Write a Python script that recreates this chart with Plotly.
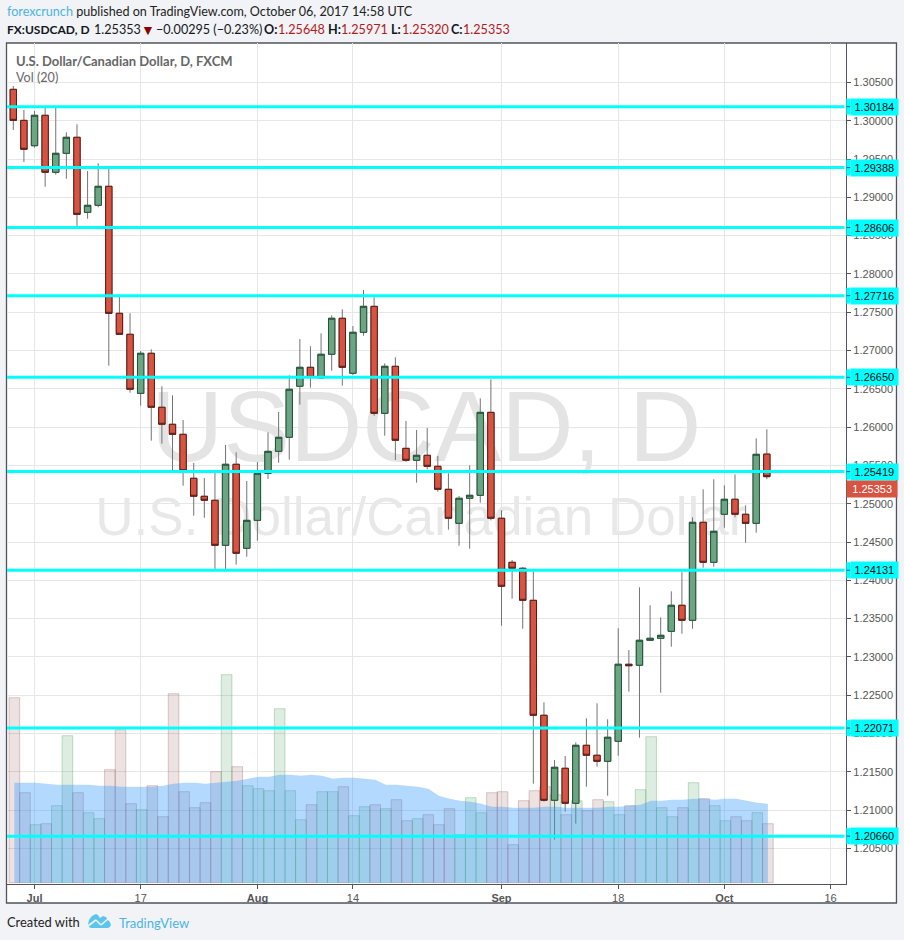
import numpy as np
import pandas as pd
import plotly.graph_objects as go

# ---------- data ----------
first_day = "2017-06-29"
opens = [1.30410,1.30005,1.29674,1.30071,1.29327,1.29575,1.29784,1.28804,1.28896,1.29144,
         1.27486,1.27212,1.26441,1.26964,1.26259,1.26037,1.25906,1.25332,1.25097,1.25045,
         1.24457,1.25515,1.24418,1.24783,1.25397,1.25684,1.25867,1.26533,1.26781,1.26641,
         1.26951,1.27421,1.26703,1.27238,1.27577,1.26180,1.26794,1.25723,1.25567,1.25632,
         1.25488,1.25188,1.24744,1.25071,1.25110,1.26193,1.24810,1.24235,1.24157,1.23739,
         1.22238,1.21128,1.21546,1.21089,1.21846,1.21716,1.21637,1.21898,1.22904,1.22891,
         1.23217,1.23243,1.23334,1.23674,1.23478,1.24757,1.24235,1.24862,1.25058,1.24862,
         1.24744,1.25648]
highs = [1.30453,1.30140,1.30127,1.30192,1.30183,1.29849,1.29953,1.29344,1.29444,1.29370,
         1.27712,1.27486,1.26994,1.27016,1.26533,1.26415,1.26093,1.25532,1.25336,1.25401,
         1.25767,1.25671,1.25297,1.25545,1.25932,1.26197,1.26676,1.27150,1.27055,1.27225,
         1.27460,1.27538,1.27320,1.27790,1.27695,1.26833,1.26911,1.26080,1.25962,1.25988,
         1.25623,1.25397,1.25101,1.25501,1.26376,1.26624,1.24914,1.24265,1.24174,1.24122,
         1.22407,1.21654,1.21706,1.21885,1.22198,1.22394,1.22185,1.23374,1.23090,1.23909,
         1.23674,1.23517,1.23856,1.24105,1.24823,1.25188,1.25319,1.25240,1.25384,1.24979,
         1.25854,1.25971]
lows = [1.29879,1.29461,1.29648,1.29139,1.29295,1.29243,1.28626,1.28721,1.28870,1.26802,
        1.27212,1.26449,1.26280,1.25823,1.25784,1.25440,1.25235,1.24844,1.24817,1.24148,
        1.24148,1.24204,1.24308,1.24517,1.25323,1.25535,1.25575,1.26293,1.26515,1.26628,
        1.26737,1.26541,1.26680,1.27193,1.26149,1.25888,1.25571,1.25548,1.25274,1.25449,
        1.25157,1.24661,1.24452,1.24413,1.25013,1.24783,1.23407,1.23760,1.23368,1.21345,
        1.21110,1.20614,1.20979,1.20823,1.21306,1.21567,1.21188,1.21710,1.22546,1.21945,
        1.23212,1.22533,1.23133,1.23303,1.23368,1.24165,1.24178,1.24687,1.24823,1.24491,
        1.24622,1.25320]
closes = [1.30005,1.29627,1.30071,1.29327,1.29575,1.29784,1.28778,1.28896,1.29144,1.27486,
          1.27212,1.26494,1.26964,1.26259,1.26037,1.25906,1.25431,1.25097,1.25045,1.24457,
          1.25515,1.24353,1.24783,1.25397,1.25684,1.25867,1.26494,1.26781,1.26650,1.26951,
          1.27421,1.26781,1.27238,1.27577,1.26180,1.26794,1.25828,1.25567,1.25632,1.25488,
          1.25188,1.24810,1.25071,1.25110,1.26193,1.24810,1.23922,1.24157,1.23739,1.22238,
          1.21128,1.21559,1.21089,1.21846,1.21716,1.21637,1.21951,1.22904,1.22885,1.23217,
          1.23243,1.23282,1.23674,1.23478,1.24757,1.24235,1.24640,1.25058,1.24862,1.24744,
          1.25645,1.25353]
volumes = [185,90,58,59,77,147,90,70,64,113,153,79,73,97,66,189,91,75,80,111,
           208,116,97,94,92,174,92,63,78,91,91,96,67,76,78,74,83,62,64,68,
           58,74,48,85,70,90,91,38,82,92,96,88,68,82,72,83,81,68,77,93,
           146,75,66,75,100,84,77,62,66,62,70,59]
volume_ma = [100,100,100,99,98,98,98,98,97,97,96,96,96,96,97,99,100,100,99,100,
             101,102,104,106,106,108,108,107,108,107,104,105,105,104,103,98,98,97,96,94,
             87,84,82,81,79,76,76,75,75,75,76,76,75,75,75,75,76,76,77,78,
             82,82,83,83,84,84,83,84,84,82,80,79]
levels = [1.30184,1.29388,1.28606,1.27716,1.26650,1.25419,1.24131,1.22071,1.20660]
last_price = 1.25353
price_ticks = [1.205,1.21,1.215,1.22,1.225,1.23,1.235,1.24,1.245,1.25,1.255,
               1.26,1.265,1.27,1.275,1.28,1.285,1.29,1.295,1.30,1.305]
tick_dates = ["2017-07-03","2017-07-17","2017-08-01","2017-08-14","2017-09-01","2017-09-18","2017-10-02","2017-10-16"]
tick_labels = ["<b>Jul</b>","17","<b>Aug</b>","14","<b>Sep</b>","18","<b>Oct</b>","16"]

# ---------- styles ----------
W, H = 904, 940
L, R, T, B = 7, 846.5, 43, 884
PW, PH = R - L, B - T
BG = "#f1f3f6"
GRID = "#e6e6e6"
FRAME = "#51545e"
UP, DOWN = "#6ba583", "#d75442"
UP_EDGE, DOWN_EDGE = "#225437", "#5b1a13"
WICK = "#737375"
CYAN = "#00ffff"
BLUE = "#4db4e4"
DARKRED = "#b01c1c"
UI_FONT = "Lato"
AXIS_FONT = dict(family="Liberation Sans", size=11, color="#555555")

def fx(px):
    return (px - L) / PW
def fy(py):
    return 1 - (py - T) / PH
def path(points):
    return "M " + " L ".join(f"{fx(a):.5f} {fy(b):.5f}" for a, b in points) + " Z"

idx = np.arange(len(opens))
tick_vals = [int(np.busday_count(first_day, d)) for d in tick_dates]
x_range = [-0.593, 78.46]
price_range = [1.20035, 1.31015]
vol_range = [-1.3, 839.7]
is_up = np.array(closes) >= np.array(opens)

fig = go.Figure()

# volume and watermark, lowest subplot
fig.add_trace(go.Bar(
    x=idx, y=volumes, width=1, offset=-0.4, yaxis="y",
    marker=dict(
        color=["rgba(60,150,80,0.17)" if u else "rgba(131,60,60,0.15)" for u in is_up],
        line=dict(color=["rgba(50,140,70,0.28)" if u else "rgba(130,50,50,0.25)" for u in is_up], width=1)),
    hoverinfo="skip", showlegend=False))
fig.add_trace(go.Scatter(
    x=[38.9], y=[447], mode="text", text=["USDCAD, D"], yaxis="y",
    textfont=dict(family="Liberation Sans", size=100, color="#e4e4e4"),
    textposition="middle center", hoverinfo="skip", showlegend=False, cliponaxis=False))
fig.add_trace(go.Scatter(
    x=[38.4], y=[361], mode="text", text=["U.S. Dollar/Canadian Dollar"], yaxis="y",
    textfont=dict(family="Liberation Sans", size=53, color="#e8e8e8"),
    textposition="middle center", hoverinfo="skip", showlegend=False, cliponaxis=False))

# candles: wicks then bodies with their own outline
fig.add_trace(go.Candlestick(
    x=idx, open=opens, high=highs, low=lows, close=closes, yaxis="y2",
    increasing=dict(line=dict(color=WICK, width=1), fillcolor=UP),
    decreasing=dict(line=dict(color=WICK, width=1), fillcolor=DOWN),
    hoverinfo="skip", showlegend=False))
fig.add_trace(go.Candlestick(
    x=idx, open=opens, close=closes, yaxis="y2",
    high=np.maximum(opens, closes), low=np.minimum(opens, closes),
    increasing=dict(line=dict(color=UP_EDGE, width=1), fillcolor=UP),
    decreasing=dict(line=dict(color=DOWN_EDGE, width=1), fillcolor=DOWN),
    hoverinfo="skip", showlegend=False))

# volume moving average
fig.add_trace(go.Scatter(
    x=idx + 0.1, y=volume_ma, yaxis="y3", mode="lines", line=dict(width=0),
    fill="tozeroy", fillcolor="rgba(51,153,255,0.37)", hoverinfo="skip", showlegend=False))

shapes = [
    dict(type="rect", xref="paper", yref="paper", layer="below",
         x0=fx(6.5), x1=fx(897), y0=fy(903), y1=fy(43),
         fillcolor="white", line=dict(color=FRAME, width=1.3)),
]
for lv in levels:
    shapes.append(dict(type="line", xref="paper", yref="y2", x0=0, x1=fx(845), y0=lv, y1=lv,
                       layer="above", line=dict(color=CYAN, width=3)))
    # the part of the price tag that carries the axis tick
    shapes.append(dict(type="rect", xref="paper", yref="y2", ysizemode="pixel", yanchor=lv,
                       x0=fx(846.8), x1=fx(851), y0=-8, y1=8, layer="above",
                       fillcolor=CYAN, line=dict(width=0)))
    shapes.append(dict(type="line", xref="paper", yref="y2", x0=fx(847), x1=fx(851), y0=lv, y1=lv,
                       layer="above", line=dict(color=FRAME, width=1)))

# logo
shapes.append(dict(type="path", xref="paper", yref="paper", layer="above", line=dict(width=0),
                   fillcolor="#5cc6ea",
                   path=path([(88, 925), (89, 920), (92, 916), (96, 914), (98, 915), (100, 918),
                              (103, 916), (106, 917), (108, 920), (110, 922), (111, 925),
                              (110, 927), (108, 928), (91, 928), (89, 927)])))
shapes.append(dict(type="line", xref="paper", yref="paper", layer="above",
                   x0=fx(88), x1=fx(96), y0=fy(926), y1=fy(920), line=dict(color=BG, width=1.6)))
shapes.append(dict(type="line", xref="paper", yref="paper", layer="above",
                   x0=fx(96), x1=fx(101), y0=fy(920), y1=fy(925), line=dict(color=BG, width=1.6)))
shapes.append(dict(type="line", xref="paper", yref="paper", layer="above",
                   x0=fx(101), x1=fx(108), y0=fy(925), y1=fy(919), line=dict(color=BG, width=1.6)))

def label(px, py, text, color="#131722", size=12.6, family=UI_FONT):
    return dict(xref="paper", yref="paper", x=fx(px), y=fy(py), text=text, showarrow=False,
                xanchor="left", yanchor="middle", align="left",
                font=dict(family=family, size=size, color=color), borderpad=0)

annotations = [
    label(6, 11.5, f"<span style='color:{BLUE}'>forexcrunch</span> published on TradingView.com, October 06, 2017 14:58 UTC", color="#222222"),
    label(6, 29.5, "<b>FX:USDCAD, D</b>", size=12),
    label(93, 29.5, "1.25353"),
    label(140.5, 29.5, "▼", color="#8b0000", size=14),
    label(155, 29.5, "−0.00295 (−0.23%)"),
    label(263, 29.5, "<b>O:</b>"),
    label(277, 29.5, "1.25648", color=DARKRED),
    label(327, 29.5, "<b>H:</b>"),
    label(340, 29.5, "1.25971", color=DARKRED),
    label(390, 29.5, "<b>L:</b>"),
    label(401, 29.5, "1.25320", color=DARKRED),
    label(450, 29.5, "<b>C:</b>"),
    label(462, 29.5, "1.25353", color=DARKRED),
    label(15, 60.5, "<b>U.S. Dollar/Canadian Dollar, D, FXCM</b>", color="#666666", size=13),
    label(15, 78, "Vol (20)", color="#666666"),
    label(6, 922, "Created with", color="#222222", size=12.9),
    label(118, 923, "TradingView", color=BLUE, size=13),
]
for lv in levels:
    annotations.append(dict(
        xref="paper", yref="y2", x=fx(850.5), y=lv, xanchor="left", yanchor="middle",
        text=f"{lv:.5f}", showarrow=False, width=46.7, height=16, align="center",
        bgcolor=CYAN, borderpad=0,
        font=dict(family="Liberation Sans", size=11, color="#111111")))
annotations.append(dict(
    xref="paper", yref="y2", x=fx(846.8), y=last_price, yshift=-12, xanchor="left", yanchor="middle",
    text=f"{last_price:.5f}", showarrow=False, width=50.4, height=16, align="center",
    bgcolor=DOWN, borderpad=0,
    font=dict(family="Liberation Sans", size=11, color="white")))

fig.update_layout(
    width=W, height=H, margin=dict(l=L, r=W - R, t=T, b=H - B, autoexpand=False),
    paper_bgcolor=BG, plot_bgcolor="rgba(0,0,0,0)",
    boxmode="overlay", boxgap=0.4, boxgroupgap=0, barmode="overlay", showlegend=False,
    dragmode=False, shapes=shapes, annotations=annotations,
    xaxis=dict(range=x_range, tickmode="array", tickvals=tick_vals, ticktext=tick_labels,
               showgrid=True, gridcolor=GRID, gridwidth=1, zeroline=False,
               showline=True, linecolor=FRAME, linewidth=1.3,
               ticks="outside", ticklen=4, tickcolor=FRAME, tickwidth=1, tickfont=AXIS_FONT,
               rangeslider=dict(visible=False), fixedrange=True),
    yaxis=dict(range=vol_range, visible=False, fixedrange=True),
    yaxis2=dict(range=price_range, overlaying="y", side="right", anchor="x",
                tickmode="array", tickvals=price_ticks, tickformat=".5f",
                showgrid=True, gridcolor=GRID, gridwidth=1, zeroline=False,
                showline=True, linecolor=FRAME, linewidth=1.3,
                ticks="outside", ticklen=4, tickcolor=FRAME, tickwidth=1, tickfont=AXIS_FONT,
                fixedrange=True),
    yaxis3=dict(range=vol_range, overlaying="y", visible=False, fixedrange=True),
)

fig.write_html("out.html", config=dict(displayModeBar=False),
               post_script="document.body.style.margin='0';document.body.style.background='#f1f3f6';document.documentElement.style.overflow='hidden';")
